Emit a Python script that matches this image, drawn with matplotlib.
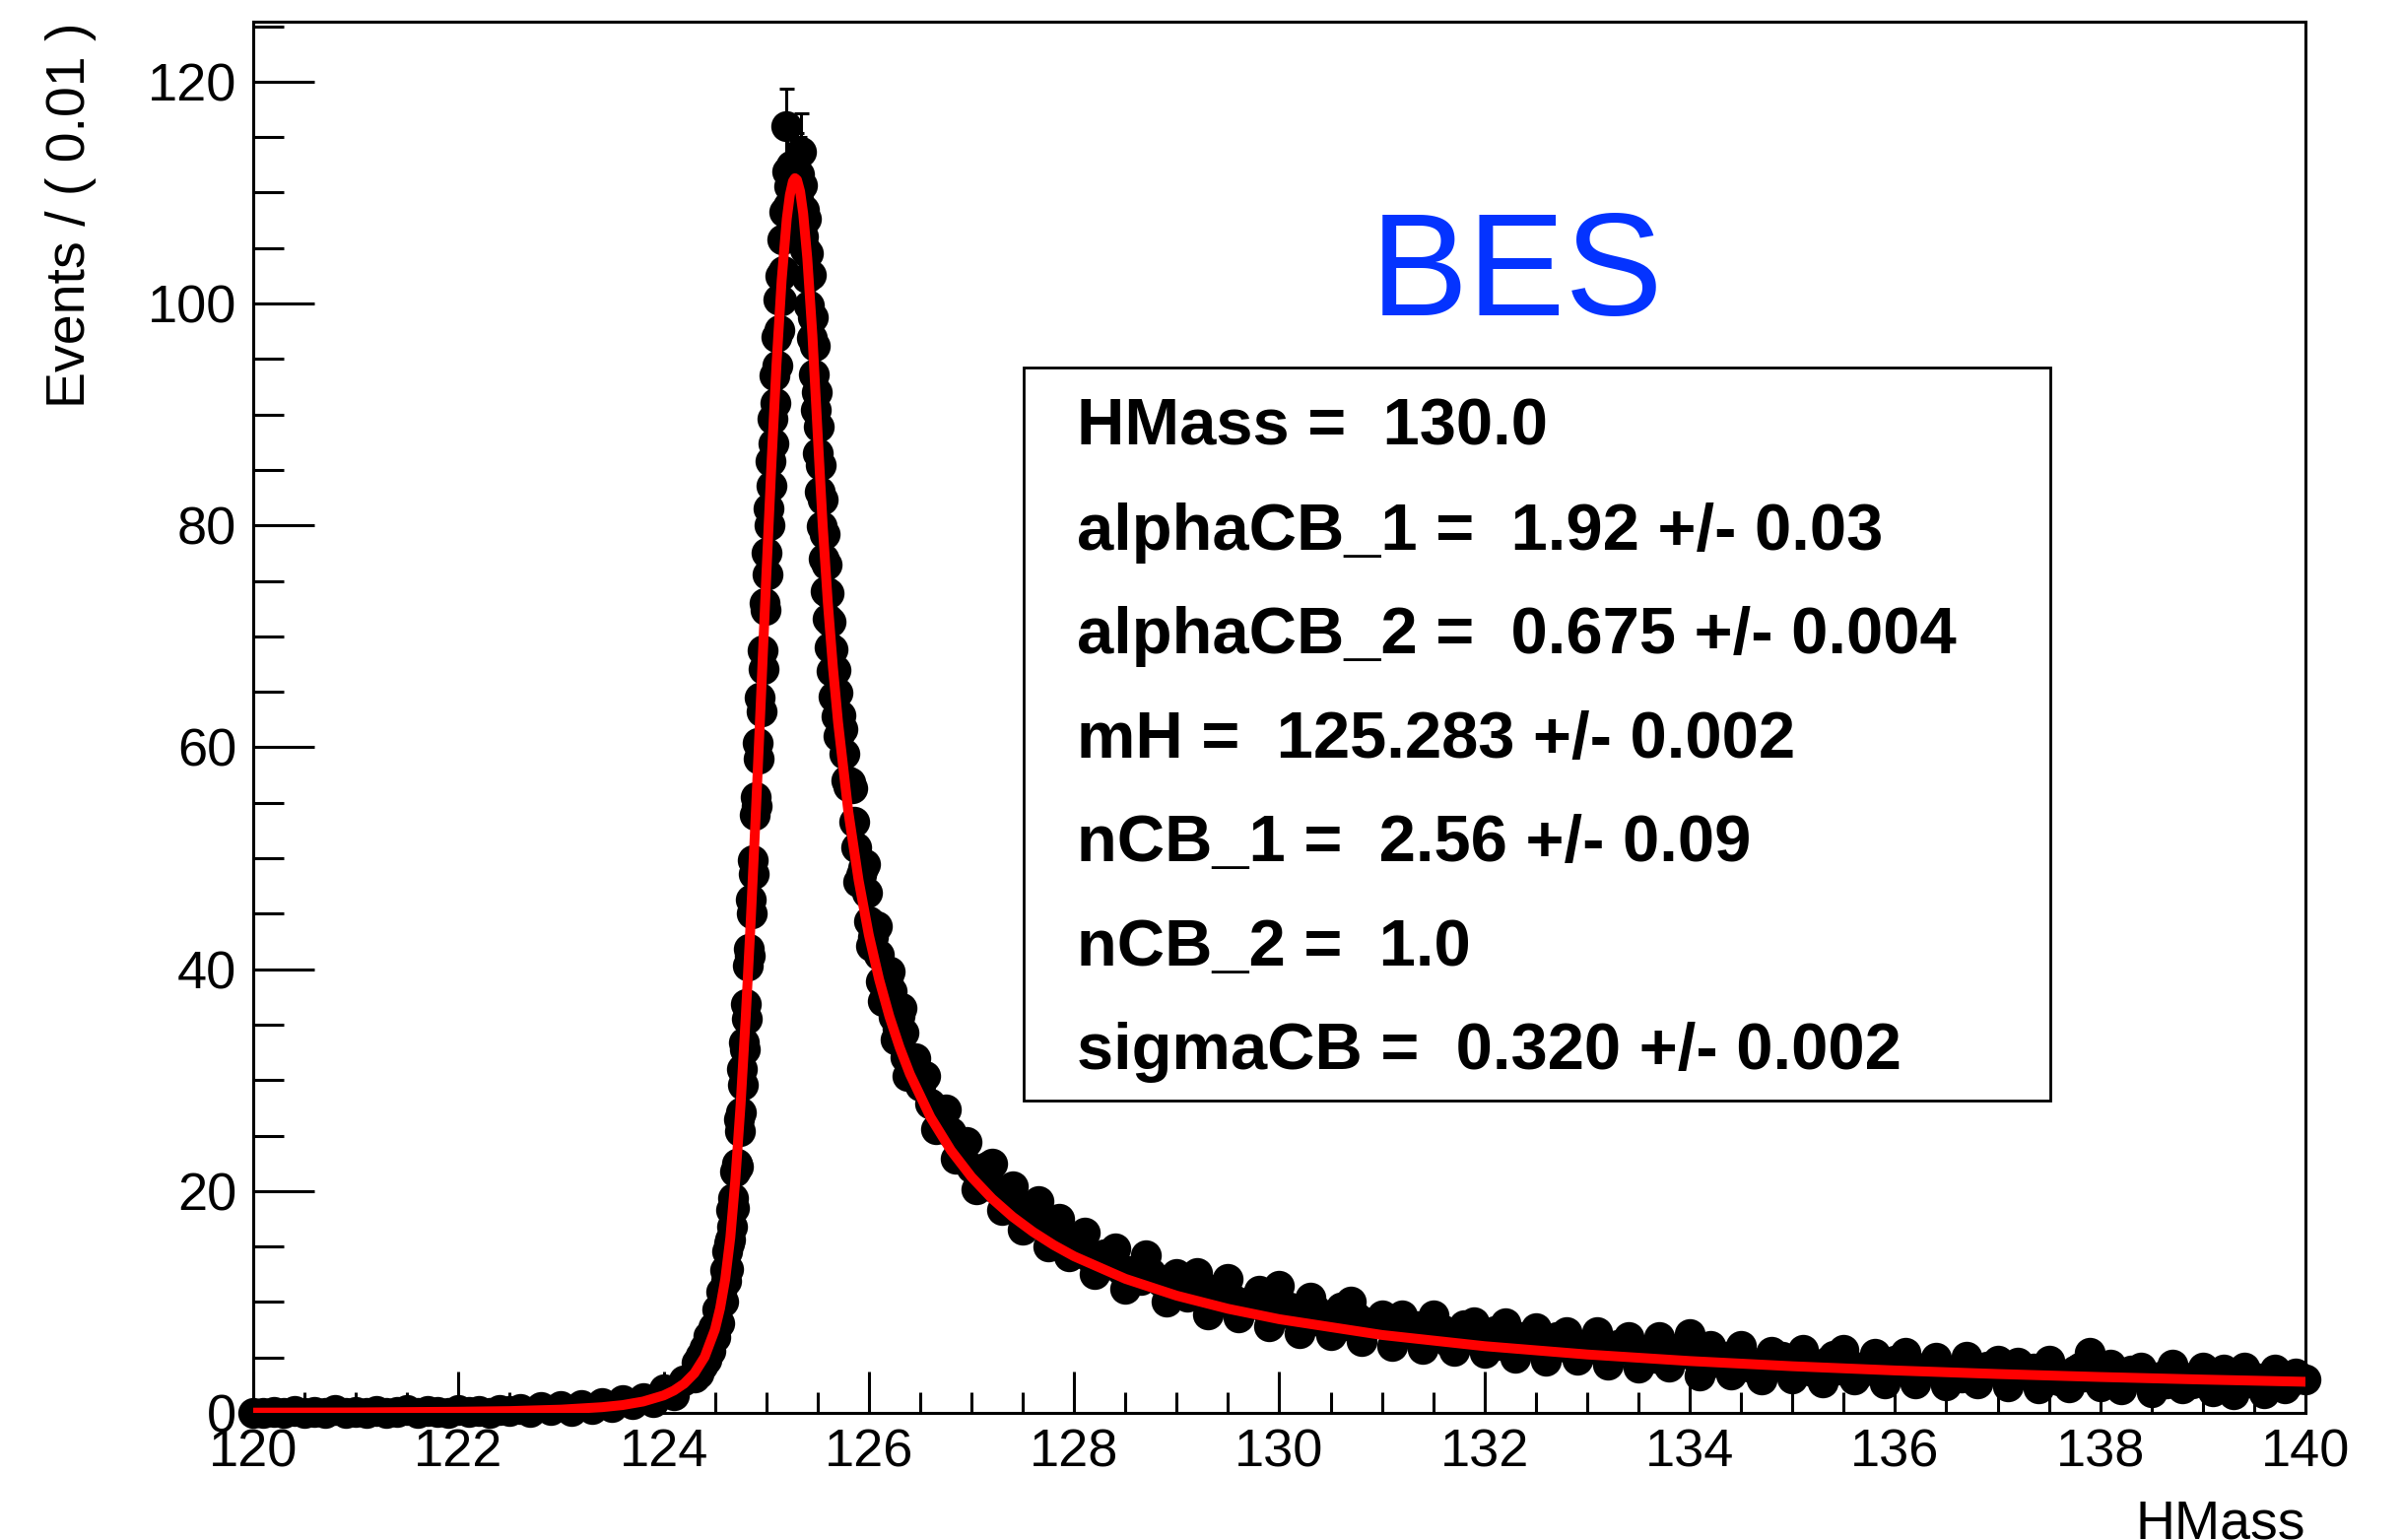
#!/usr/bin/env python3
"""HMass fit plot (RooFit style): binned events with double Crystal Ball fit."""

import numpy as np
import matplotlib
matplotlib.use("Agg")
import matplotlib.pyplot as plt
from matplotlib.patches import Rectangle
from matplotlib.ticker import MultipleLocator

# ---- binned data, Events / (0.01) in segments ----
x_a = np.round(np.arange(120.0, 124.25, 0.1), 2)
y_a = [0.0, 0.0, 0.1, 0.0, 0.2, 0.0, 0.1, 0.0, 0.3, 0.0,
       0.1, 0.0, 0.2, 0.0, 0.1, 0.3, 0.0, 0.2, 0.1, 0.0,
       0.3, 0.1, 0.2, 0.0, 0.3, 0.2, 0.4, 0.1, 0.5, 0.3,
       0.6, 0.2, 0.7, 0.4, 0.9, 0.5, 1.2, 0.8, 1.3, 1.0,
       2.1, 1.6, 2.9]

x_b = np.round(np.arange(124.30, 124.59, 0.02), 2)
y_b = [3.2, 4.5, 3.6, 5.2, 4.3, 5.9, 4.8, 6.9, 5.6, 7.7, 6.8, 9.3, 8.1, 10.9, 10.0]

x_c = np.round(np.arange(124.60, 125.705, 0.01), 2)
y_c = [12.9, 11.9, 14.6, 13.0, 15.3, 15.6, 18.3, 16.8, 19.4, 18.5,
       21.8, 22.5, 22.2, 26.5, 25.4, 27.1, 31.0, 29.6, 33.4, 32.8,
       36.9, 35.5, 40.3, 41.8, 41.2, 46.3, 45.0, 49.8, 48.6, 53.9,
       55.5, 54.7, 60.4, 59.0, 64.5, 63.2, 68.7, 67.1, 73.0, 72.4,
       77.5, 75.6, 81.5, 80.0, 85.8, 83.6, 89.6, 87.4, 93.5, 91.0,
       97.0, 94.4, 100.4, 97.6, 102.5, 100.3, 105.8, 102.9, 108.3, 116.0,
       111.9, 108.8, 110.6, 108.2, 112.4, 109.0, 111.3, 110.2, 109.6, 112.0,
       110.8, 109.4, 111.6, 108.0, 113.7, 110.7, 106.0, 108.4, 104.9, 107.6,
       102.3, 104.5, 99.8, 102.6, 96.9, 98.8, 93.6, 96.2, 90.4, 92.0,
       86.5, 88.9, 83.0, 85.4, 79.9, 82.3, 77.0, 79.2, 74.1, 76.5,
       71.6, 73.9, 69.0, 71.3, 66.9, 68.8, 64.6, 67.0, 62.8, 64.9, 61.0]

x_d = np.round(np.arange(125.72, 126.41, 0.02), 2)
y_d = [62.9, 61.6, 59.4, 57.0, 56.5, 56.8, 56.3, 53.3, 51.0, 47.9,
       48.5, 49.1, 49.5, 46.9, 44.3, 42.1, 42.9, 43.8, 43.9, 41.3,
       38.9, 37.1, 38.1, 39.1, 39.8, 38.0, 35.7, 33.7, 34.6, 35.8,
       36.5, 34.3, 32.1, 30.4, 31.8]

x_e = np.round(np.arange(126.45, 128.01, 0.05), 2)
y_e = [32.0, 29.5, 30.4, 27.9, 25.6, 26.6, 27.4, 25.3, 22.9, 23.6,
       24.4, 22.1, 20.2, 21.3, 22.2, 22.5, 20.2, 18.3, 19.2, 20.4,
       18.3, 16.5, 17.5, 18.7, 19.1, 17.1, 15.0, 16.1, 17.5, 15.8,
       14.1, 15.4]

x_f = np.round(np.arange(128.1, 140.05, 0.1), 2)
y_f = [16.3, 12.5, 14.3, 14.8, 11.2, 12.2, 14.2, 12.2, 10.0, 12.5,
       10.5, 12.6, 8.9, 11.0, 12.1, 8.6, 9.9, 11.0, 7.8, 11.5,
       9.5, 7.2, 10.4, 8.3, 7.0, 9.5, 10.0, 6.5, 8.2, 8.8,
       6.0, 8.8, 7.3, 5.8, 8.8, 7.5, 5.6, 7.9, 8.2, 5.4,
       7.4, 8.1, 5.0, 6.5, 7.6, 4.7, 6.8, 7.3, 4.8, 6.0,
       7.3, 4.4, 6.1, 6.8, 4.1, 5.5, 6.8, 4.2, 5.9, 7.1,
       3.4, 6.0, 5.0, 3.5, 6.0, 4.1, 3.0, 5.5, 5.1, 3.1,
       5.7, 3.7, 2.8, 5.2, 5.7, 3.0, 4.2, 5.3, 2.7, 4.7,
       5.4, 2.7, 4.1, 5.0, 2.5, 3.4, 5.1, 2.7, 4.2, 4.7,
       2.4, 4.5, 3.7, 2.2, 4.7, 2.9, 2.3, 4.1, 5.4, 2.4,
       4.4, 2.1, 3.8, 4.1, 1.9, 3.3, 4.4, 2.2, 2.7, 4.1,
       2.0, 3.9, 1.7, 4.1, 3.2, 1.8, 3.9, 2.2, 3.6, 3.0]

# bins in between the ones above (tail, x.x5)
x_g = np.round(np.arange(128.05, 140.0, 0.1), 2)
y_g = [15.1, 14.0, 14.0, 14.0, 13.0, 12.8, 12.0, 12.6, 11.8, 11.8,
       11.6, 10.7, 11.0, 11.1, 10.2, 10.2, 9.5, 10.2, 9.5, 9.6,
       9.6, 8.7, 9.0, 9.3, 8.5, 8.5, 7.9, 8.6, 8.0, 8.2,
       7.9, 7.1, 7.5, 7.8, 6.9, 7.0, 6.4, 7.3, 6.7, 6.9,
       6.9, 6.1, 6.5, 6.8, 6.1, 6.2, 5.6, 6.4, 5.9, 6.1,
       6.1, 5.4, 5.8, 6.2, 5.4, 5.5, 5.0, 5.8, 5.3, 5.5,
       5.1, 4.3, 4.8, 5.1, 4.4, 4.5, 4.0, 4.8, 4.3, 4.5,
       4.6, 3.9, 4.3, 4.7, 3.9, 4.1, 3.6, 4.4, 3.9, 4.2,
       4.2, 3.5, 4.0, 4.3, 3.6, 3.8, 3.2, 4.1, 3.6, 3.8,
       3.9, 3.2, 3.6, 4.0, 3.3, 3.5, 2.9, 3.8, 3.3, 3.6,
       3.6, 2.9, 3.4, 3.8, 3.0, 3.2, 2.7, 3.6, 3.0, 3.3,
       3.4, 2.7, 3.2, 3.5, 2.8, 3.0, 2.5, 3.4, 2.8, 3.1]

# error bars that stick out above the markers near the peak
err_x = [125.19, 125.20, 125.24, 125.29, 125.32, 125.34, 125.16, 125.39]
err_v = [3.4, 3.4, 3.4, 3.4, 3.4, 3.4, 3.3, 3.3]

# fitted curve (red)
fit_x = [120.0, 121.0, 122.0, 122.5, 123.0, 123.4, 123.6, 123.8, 124.0, 124.1,
         124.2, 124.3, 124.4, 124.5, 124.55, 124.6, 124.65, 124.7, 124.75, 124.8,
         124.85, 124.9, 124.95, 125.0, 125.05, 125.1, 125.15, 125.2, 125.23, 125.26,
         125.28, 125.3, 125.33, 125.36, 125.4, 125.45, 125.5, 125.55, 125.6, 125.65,
         125.7, 125.8, 125.9, 126.0, 126.1, 126.2, 126.3, 126.4, 126.6, 126.8,
         127.0, 127.2, 127.4, 127.6, 127.8, 128.0, 128.5, 129.0, 129.5, 130.0,
         131.0, 132.0, 133.0, 134.0, 135.0, 136.0, 137.0, 138.0, 139.0, 140.0]
fit_y = [0.03, 0.05, 0.11, 0.17, 0.30, 0.52, 0.71, 1.03, 1.58, 2.02,
         2.64, 3.58, 5.05, 7.51, 9.42, 12.04, 15.81, 21.16, 27.78, 35.65,
         44.56, 54.37, 64.74, 75.31, 85.39, 94.51, 102.07, 107.63, 109.78, 111.01,
         111.30, 111.14, 110.11, 108.12, 104.09, 97.13, 88.45, 80.04, 73.05, 67.21,
         62.24, 54.20, 48.02, 43.08, 39.08, 35.75, 32.95, 30.55, 26.67, 23.67,
         21.27, 19.32, 17.69, 16.32, 15.14, 14.12, 12.09, 10.57, 9.39, 8.45,
         7.03, 6.02, 5.27, 4.68, 4.21, 3.83, 3.51, 3.24, 3.01, 2.81]

# fit parameter box
par_names = ["HMass", "alphaCB_1", "alphaCB_2", "mH", "nCB_1", "nCB_2", "sigmaCB"]
par_values = ["130.0", "1.92", "0.675", "125.283", "2.56", "1.0", "0.320"]
par_errors = [None, "0.03", "0.004", "0.002", "0.09", None, "0.002"]

data_x = np.concatenate([x_a, x_b, x_c, x_d, x_e, x_f, x_g])
data_y = np.concatenate([y_a, y_b, y_c, y_d, y_e, y_f, y_g])

plt.rcParams.update({
    "font.family": ["Liberation Sans", "DejaVu Sans"],
    "axes.linewidth": 1.1,
})

fig = plt.figure(figsize=(12.19, 7.815), dpi=200)
ax = fig.add_axes([0.1054, 0.0825, 0.8544, 0.9034])

ax.set_xlim(120, 140)
ax.set_ylim(0, 125.4)
ax.xaxis.set_major_locator(MultipleLocator(2))
ax.xaxis.set_minor_locator(MultipleLocator(0.5))
ax.yaxis.set_major_locator(MultipleLocator(20))
ax.yaxis.set_minor_locator(MultipleLocator(5))
ax.tick_params(which="both", direction="in", top=False, right=False,
               width=1.1, labelsize=19.5)
ax.tick_params(axis="y", which="major", length=22.3, pad=6)
ax.tick_params(axis="y", which="minor", length=11.2)
ax.tick_params(axis="x", which="major", length=15, pad=5.5)
ax.tick_params(axis="x", which="minor", length=7.5)

ax.plot(data_x, data_y, "o", color="black", ms=11.3, mew=0,
        clip_on=False, zorder=3)

err_y = [data_y[np.argmin(np.abs(data_x - x))] for x in err_x]
ax.errorbar(err_x, err_y, yerr=err_v, fmt="none", ecolor="black",
            elinewidth=1.1, capsize=2.7, capthick=1.1, zorder=2.5)

ax.plot(fit_x, fit_y, color="#ff0000", lw=3.6, zorder=4,
        solid_joinstyle="round")

ax.set_ylabel("Events / ( 0.01 )", fontsize=20, loc="top")
ax.yaxis.set_label_coords(-0.0763, 1.0)
ax.set_xlabel("HMass", fontsize=20, loc="right")
ax.xaxis.set_label_coords(1.0, -0.0616)

ax.text(0.6155, 0.789, "BES", transform=ax.transAxes, ha="center",
        va="baseline", fontsize=53.5, color="#0433ff")

ax.add_patch(Rectangle((0.3754, 0.2245), 0.5003, 0.5269,
                       transform=ax.transAxes, facecolor="white",
                       edgecolor="black", lw=1.0, zorder=5))

y0 = 0.6955
dy = 0.07472
for i, (name, val, err) in enumerate(zip(par_names, par_values, par_errors)):
    label = f"{name} =  {val}"
    if err is not None:
        label += f" +/- {err}"
    ax.text(0.4013, y0 - i * dy, label, transform=ax.transAxes,
            ha="left", va="baseline", fontsize=24.1, fontweight="bold",
            zorder=6)

fig.savefig("out.png", dpi=200)
plt.close(fig)
